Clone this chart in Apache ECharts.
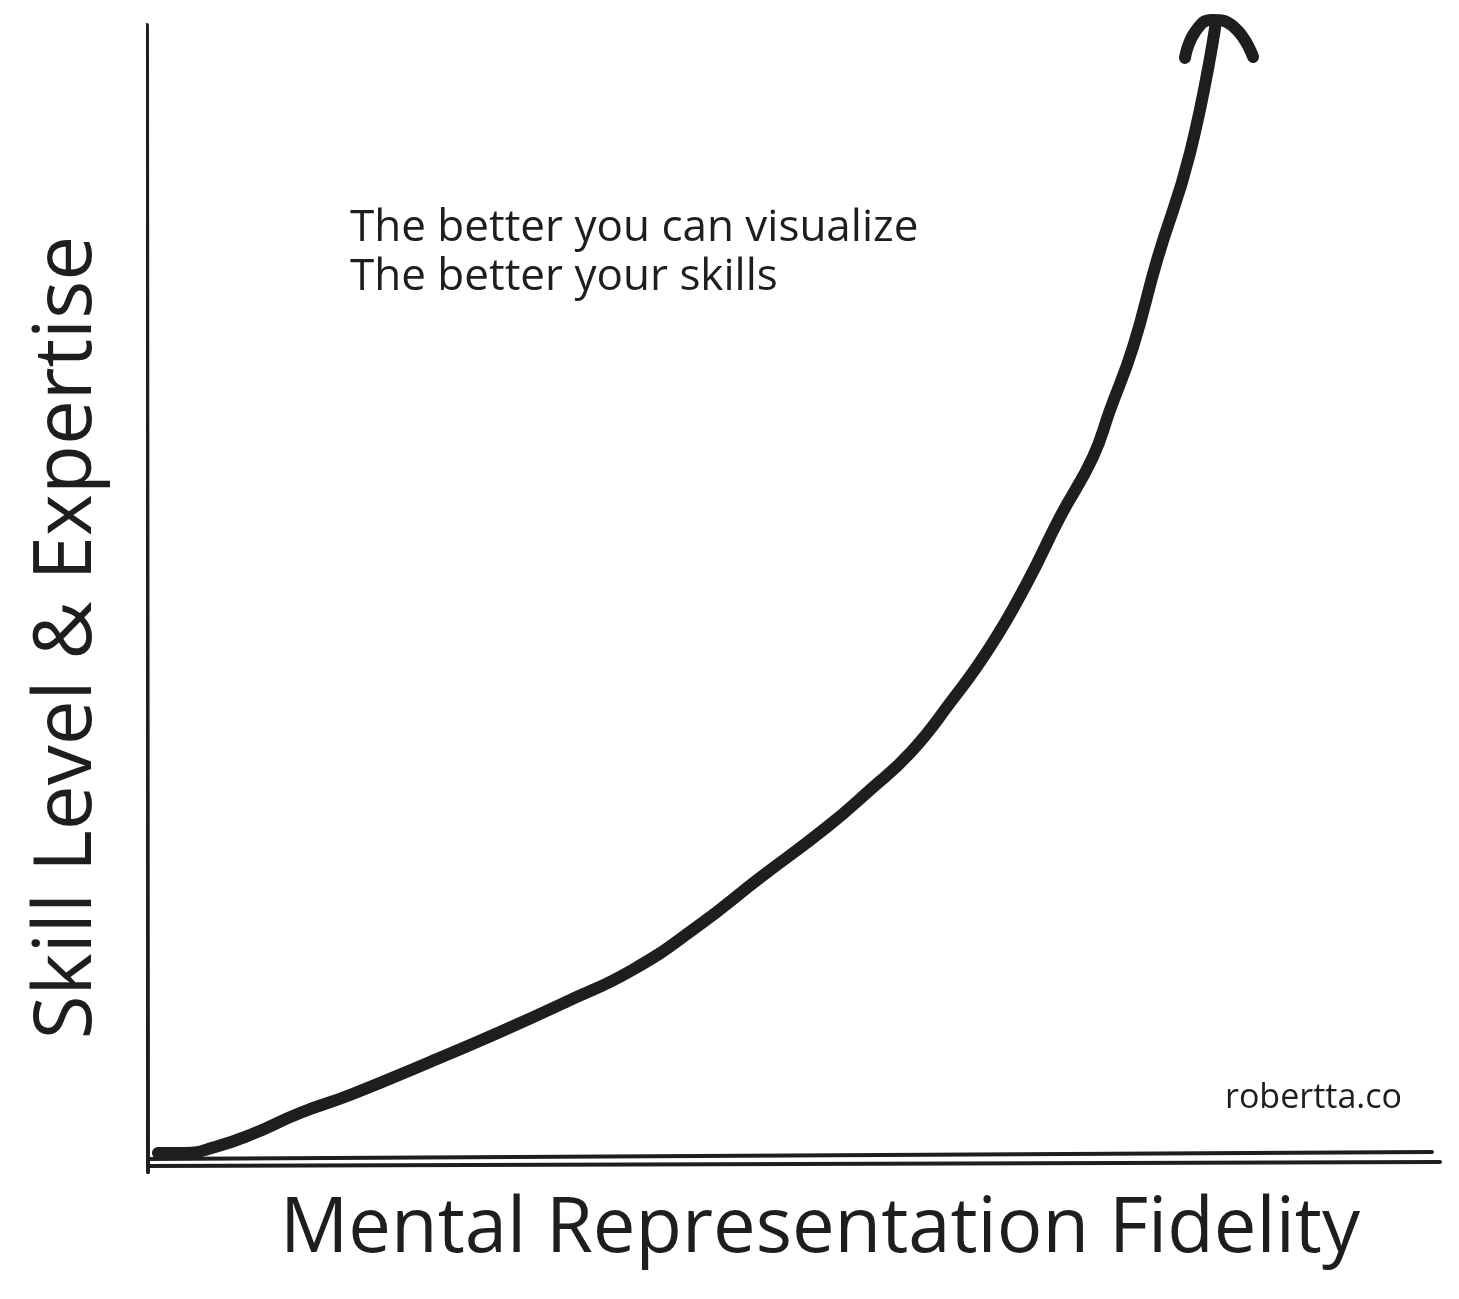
<!DOCTYPE html>
<html>
<head>
<meta charset="utf-8">
<script src="https://cdn.jsdelivr.net/npm/echarts@6/dist/echarts.min.js"></script>
<style>
html,body{margin:0;padding:0;background:#fff;}
#chart{width:1459px;height:1299px;}
</style>
</head>
<body>
<div id="chart"></div>
<script>
// Curve: Mental Representation Fidelity (x) vs Skill Level & Expertise (y), 0-100 units
const curveX = [0.77, 2.86, 5.19, 7.89, 11.76, 15.63, 21.83, 27.24, 32.40, 37.50, 42.50, 47.37, 52.55, 55.88, 58.98, 62.07, 65.17, 68.03, 70.59, 73.14, 74.46, 76.24, 78.10, 80.65, 82.59];
const curveY = [0.79, 0.79, 1.32, 2.37, 4.31, 5.89, 8.80, 11.43, 14.10, 16.90, 20.70, 25.00, 29.46, 32.72, 35.97, 40.37, 45.29, 50.92, 56.73, 62.01, 66.14, 71.68, 79.33, 88.74, 99.74];
// Arrow head at the curve's end
const arrowX = [80.26, 81.04, 82.35, 84.13, 85.53];
const arrowY = [97.10, 99.38, 100.44, 99.74, 97.19];
// Hand-drawn strokes of the two axes
const xStrokeAX = [-0.62, 99.38];
const xStrokeAY = [0.26, 0.88];
const xStrokeBX = [0, 100];
const xStrokeBY = [-0.35, 0.0];
const yStrokeX = [0, -0.08];
const yStrokeY = [-0.9, 100];

const xAxisName = 'Mental Representation Fidelity';
const yAxisName = 'Skill Level & Expertise';
const noteLines = ['The better you can visualize', 'The better your skills'];
const credit = 'robertta.co';

const ink = '#1e1e1e';
const font = '"Open Sans", "Noto Sans", sans-serif';
const zip = (a, b) => a.map((v, i) => [v, b[i]]);
const stroke = (d, w) => ({
  type: 'line', data: d, symbol: 'none', clip: false, silent: true,
  lineStyle: {color: ink, width: w, cap: 'round', join: 'round'}
});

const chart = echarts.init(document.getElementById('chart'), null, {renderer: 'canvas'});
chart.setOption({
  animation: false,
  backgroundColor: '#ffffff',
  grid: {left: 148, right: 19, top: 25, bottom: 137},
  xAxis: {
    type: 'value', min: 0, max: 100,
    name: xAxisName, nameLocation: 'middle', nameGap: 30,
    nameTextStyle: {fontFamily: font, fontSize: 76, color: ink, padding: [0, 0, 0, 52]},
    axisLine: {show: false},
    axisTick: {show: false}, axisLabel: {show: false}, splitLine: {show: false}
  },
  yAxis: {
    type: 'value', min: 0, max: 100,
    name: yAxisName, nameLocation: 'middle', nameGap: 40, nameRotate: 90,
    nameTextStyle: {fontFamily: font, fontSize: 80, color: ink, padding: [0, 88, 0, 0]},
    axisLine: {show: false},
    axisTick: {show: false}, axisLabel: {show: false}, splitLine: {show: false}
  },
  series: [
    stroke(zip(yStrokeX, yStrokeY), 4),
    stroke(zip(xStrokeAX, xStrokeAY), 4),
    stroke(zip(xStrokeBX, xStrokeBY), 4),
    Object.assign(stroke(zip(curveX, curveY), 12), {smooth: 0.5, silent: false}),
    Object.assign(stroke(zip(arrowX, arrowY), 12), {smooth: 0.5})
  ],
  graphic: [
    {
      type: 'text', left: 350, top: 204,
      style: {text: noteLines.join('\n'), font: '44px ' + font, fill: ink, lineHeight: 49}
    },
    {
      type: 'text', left: 1225, top: 1081,
      style: {text: credit, font: '34px ' + font, fill: ink}
    }
  ]
});
</script>
</body>
</html>
